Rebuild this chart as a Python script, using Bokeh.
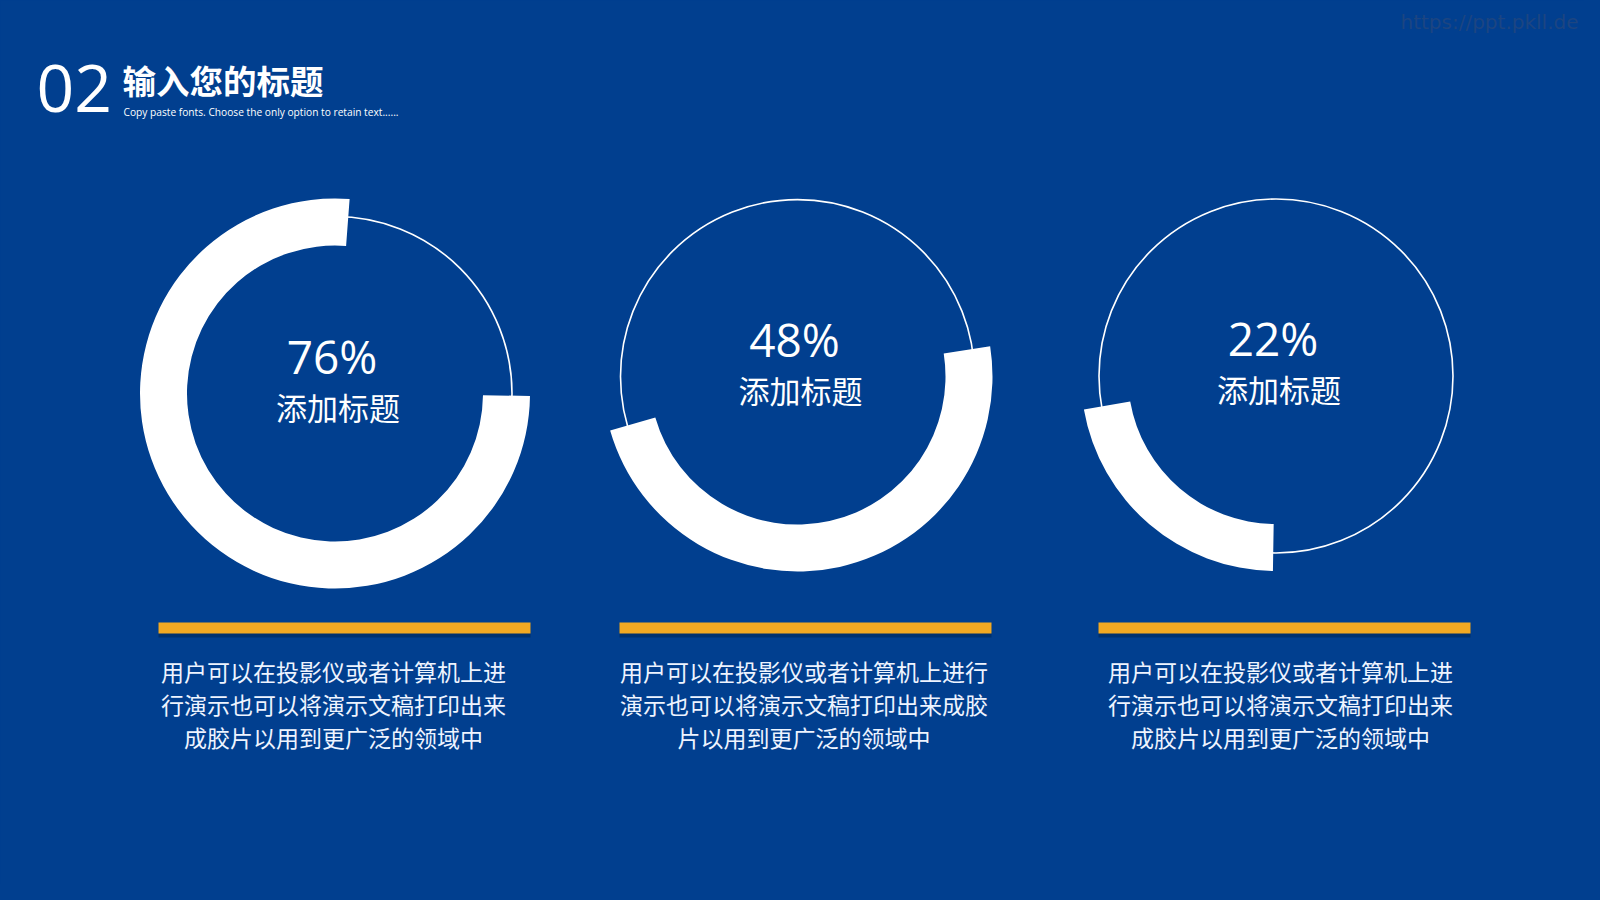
import math
from bokeh.plotting import figure
from bokeh.models import Range1d, GlobalInlineStyleSheet
from bokeh.core.properties import value
from bokeh.embed import file_html
from bokeh.resources import INLINE

# ---------------- data ----------------
values = [76, 48, 22]
pct_labels = ["76%", "48%", "22%"]
item_titles = ["添加标题", "添加标题", "添加标题"]
desc_lines = [
    ["用户可以在投影仪或者计算机上进", "行演示也可以将演示文稿打印出来", "成胶片以用到更广泛的领域中"],
    ["用户可以在投影仪或者计算机上进行", "演示也可以将演示文稿打印出来成胶", "片以用到更广泛的领域中"],
    ["用户可以在投影仪或者计算机上进", "行演示也可以将演示文稿打印出来", "成胶片以用到更广泛的领域中"],
]
title_num = "02"
title_text = "输入您的标题"
subtitle_text = "Copy paste fonts. Choose the only option to retain text......"
watermark = "https://ppt.pkll.de"

# ---------------- layout / style ----------------
BG = "#013f8f"
GOLD = "#f2a922"
W, H = 1600, 900
cx = [334.5, 797.0, 1275.5]          # ring centres (screen px)
cy = [393.0, 376.0, 375.5]
mid_angle = [137.5, 77.5, 130.5]     # screen angle (clockwise from +x) of arc middle
R_THIN, R_IN, R_OUT = 177, 148, 195
bar_left = [158, 619, 1098]
bar_width = 372
bar_top, bar_h = 622, 11
text_cx = [333, 803.5, 1280]
line_y = [670.0, 703.5, 736.5]


def Y(sy):
    return H - sy


p = figure(width=1584, height=884, output_backend="svg", toolbar_location=None,
           x_range=Range1d(0, 1584), y_range=Range1d(Y(884), Y(0)),
           x_axis_location=None, y_axis_location=None, min_border=0,
           background_fill_color=BG, border_fill_color=BG, outline_line_color=None)
p.grid.visible = False
p.stylesheets = [GlobalInlineStyleSheet(css="html,body{background:%s;}" % BG)]

# thin full circles
p.circle(x=cx, y=[Y(v) for v in cy], radius=R_THIN, fill_alpha=0,
         line_color="white", line_width=1.6)

# thick arcs (proportional to value)
starts, ends = [], []
for v, m in zip(values, mid_angle):
    sweep = v / 100 * 360
    s_scr, e_scr = m - sweep / 2, m + sweep / 2
    starts.append(math.radians(-e_scr))
    ends.append(math.radians(-s_scr))
p.annular_wedge(x=cx, y=[Y(v) for v in cy], inner_radius=R_IN, outer_radius=R_OUT,
                start_angle=starts, end_angle=ends, direction="anticlock",
                fill_color="white", line_color=None)

# centre texts
p.text(x=[c - 3 for c in cx], y=[Y(v - 38) for v in cy], text=pct_labels,
       text_font=value("Open Sans"), text_font_size="46px", text_color="white",
       text_align="center", text_baseline="alphabetic")
p.text(x=[c + 3 for c in cx], y=[Y(v + 12.5) for v in cy], text=item_titles,
       text_font=value("Noto Sans CJK SC"), text_font_size="31px", text_color="white",
       text_align="center", text_baseline="middle")

# gold bars with shadow
lefts = bar_left
rights = [b + bar_width for b in bar_left]
p.quad(left=lefts, right=rights, top=[Y(bar_top + 2)] * 3, bottom=[Y(bar_top + bar_h + 4)] * 3,
       fill_color="black", fill_alpha=0.22, line_color=None)
p.quad(left=lefts, right=rights, top=[Y(bar_top)] * 3, bottom=[Y(bar_top + bar_h)] * 3,
       fill_color=GOLD, line_color=None)

# description lines
xs, ys, ts = [], [], []
for i, lines in enumerate(desc_lines):
    for j, t in enumerate(lines):
        xs.append(text_cx[i])
        ys.append(Y(line_y[j]))
        ts.append(t)
p.text(x=xs, y=ys, text=ts, text_font=value("Noto Sans CJK SC"), text_font_size="23px",
       text_color="#eef4ff", text_align="center", text_baseline="middle")

# title block
p.text(x=[36], y=[Y(88)], text=[title_num], text_font=value("Open Sans"),
       text_font_size="66px", text_color="white", text_align="left",
       text_baseline="alphabetic")
p.text(x=[122], y=[Y(78.5)], text=[title_text], text_font=value("Noto Sans CJK SC"),
       text_font_size="33.5px", text_font_style="bold", text_color="white",
       text_align="left", text_baseline="middle")
p.text(x=[123], y=[Y(111.5)], text=[subtitle_text], text_font=value("Open Sans"),
       text_font_size="10.2px", text_color="white", text_align="left",
       text_baseline="middle")

# watermark
p.text(x=[1578], y=[Y(21)], text=[watermark], text_font=value("DejaVu Sans"),
       text_font_size="20px", text_color="#1c4582", text_align="right",
       text_baseline="middle")

open("out.html", "w").write(file_html(p, INLINE))
